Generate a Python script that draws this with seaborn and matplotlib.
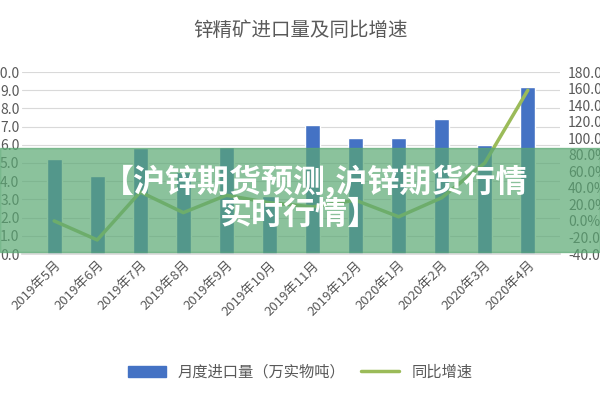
import matplotlib
matplotlib.use("Agg")
import matplotlib.pyplot as plt
import seaborn as sns
import pandas as pd
from matplotlib.ticker import FormatStrFormatter, MultipleLocator
from matplotlib.patches import Rectangle
from matplotlib.lines import Line2D

sns.set_theme(style="white")
plt.rcParams['font.family'] = ['Noto Sans CJK SC', 'DejaVu Sans']

months = ["2019年5月", "2019年6月", "2019年7月", "2019年8月", "2019年9月", "2019年10月",
          "2019年11月", "2019年12月", "2020年1月", "2020年2月", "2020年3月", "2020年4月"]
imports = [5.2, 4.3, 5.8, 4.5, 5.9, 3.2, 7.1, 6.4, 6.4, 7.4, 6.0, 9.2]
growth = [0, -23, 35, 10, 31, 22, 17, 25, 5, 28, 70, 158]

df = pd.DataFrame({"month": months, "imports": imports, "growth": growth})

fig = plt.figure(figsize=(6, 4), dpi=100)
ax = fig.add_axes([0.037, 0.365, 0.896, 0.455])
sns.barplot(data=df, x="month", y="imports", color="#4472C4", width=0.35,
            saturation=1, ax=ax, zorder=2)
ax.set_ylim(0, 10)
ax.yaxis.set_major_locator(MultipleLocator(1))
ax.yaxis.set_major_formatter(FormatStrFormatter("%.1f"))
ax.grid(axis="y", color="#d9d9d9", lw=0.8, zorder=0)
ax.set_axisbelow(True)
ax.set_xlabel("")
ax.set_ylabel("")
for s in ["top", "right", "left"]:
    ax.spines[s].set_visible(False)
ax.spines["bottom"].set_color("#d9d9d9")
ax.tick_params(axis="y", colors="#595959", labelsize=10, length=0, pad=2)
ax.tick_params(axis="x", colors="#595959", labelsize=9.5, length=0)
plt.setp(ax.get_xticklabels(), rotation=45, ha="right", rotation_mode="anchor")

ax2 = ax.twinx()
sns.lineplot(x=list(range(len(months))), y=growth, color="#9BBB59", lw=2.5, ax=ax2)
ax2.set_ylim(-40, 180)
ax2.yaxis.set_major_locator(MultipleLocator(20))
ax2.yaxis.set_major_formatter(FormatStrFormatter("%.1f%%"))
for s in ["top", "right", "left", "bottom"]:
    ax2.spines[s].set_visible(False)
ax2.tick_params(axis="y", colors="#595959", labelsize=10, length=0, pad=6)

fig.text(0.5, 0.925, "锌精矿进口量及同比增速", ha="center", va="center",
         fontsize=14, color="#595959")

handles = [Rectangle((0, 0), 1, 1, color="#4472C4"),
           Line2D([0], [0], color="#9BBB59", lw=2.5)]
fig.legend(handles, ["月度进口量（万实物吨）", "同比增速"], loc="center",
           bbox_to_anchor=(0.5, 0.07), ncol=2, frameon=False, fontsize=11,
           labelcolor="#595959", handlelength=2.5, columnspacing=1.0)

fig.patches.append(Rectangle((0, 0.37), 1, 0.26, transform=fig.transFigure,
                             color="#5aa873", alpha=0.7, zorder=5))
fig.text(0.525, 0.545, "【沪锌期货预测,沪锌期货行情", ha="center", va="center",
         fontsize=23, color="white", fontweight="bold", zorder=6)
fig.text(0.5, 0.463, "实时行情】", ha="center", va="center",
         fontsize=23, color="white", fontweight="bold", zorder=6)

fig.savefig("out.png", dpi=100)
